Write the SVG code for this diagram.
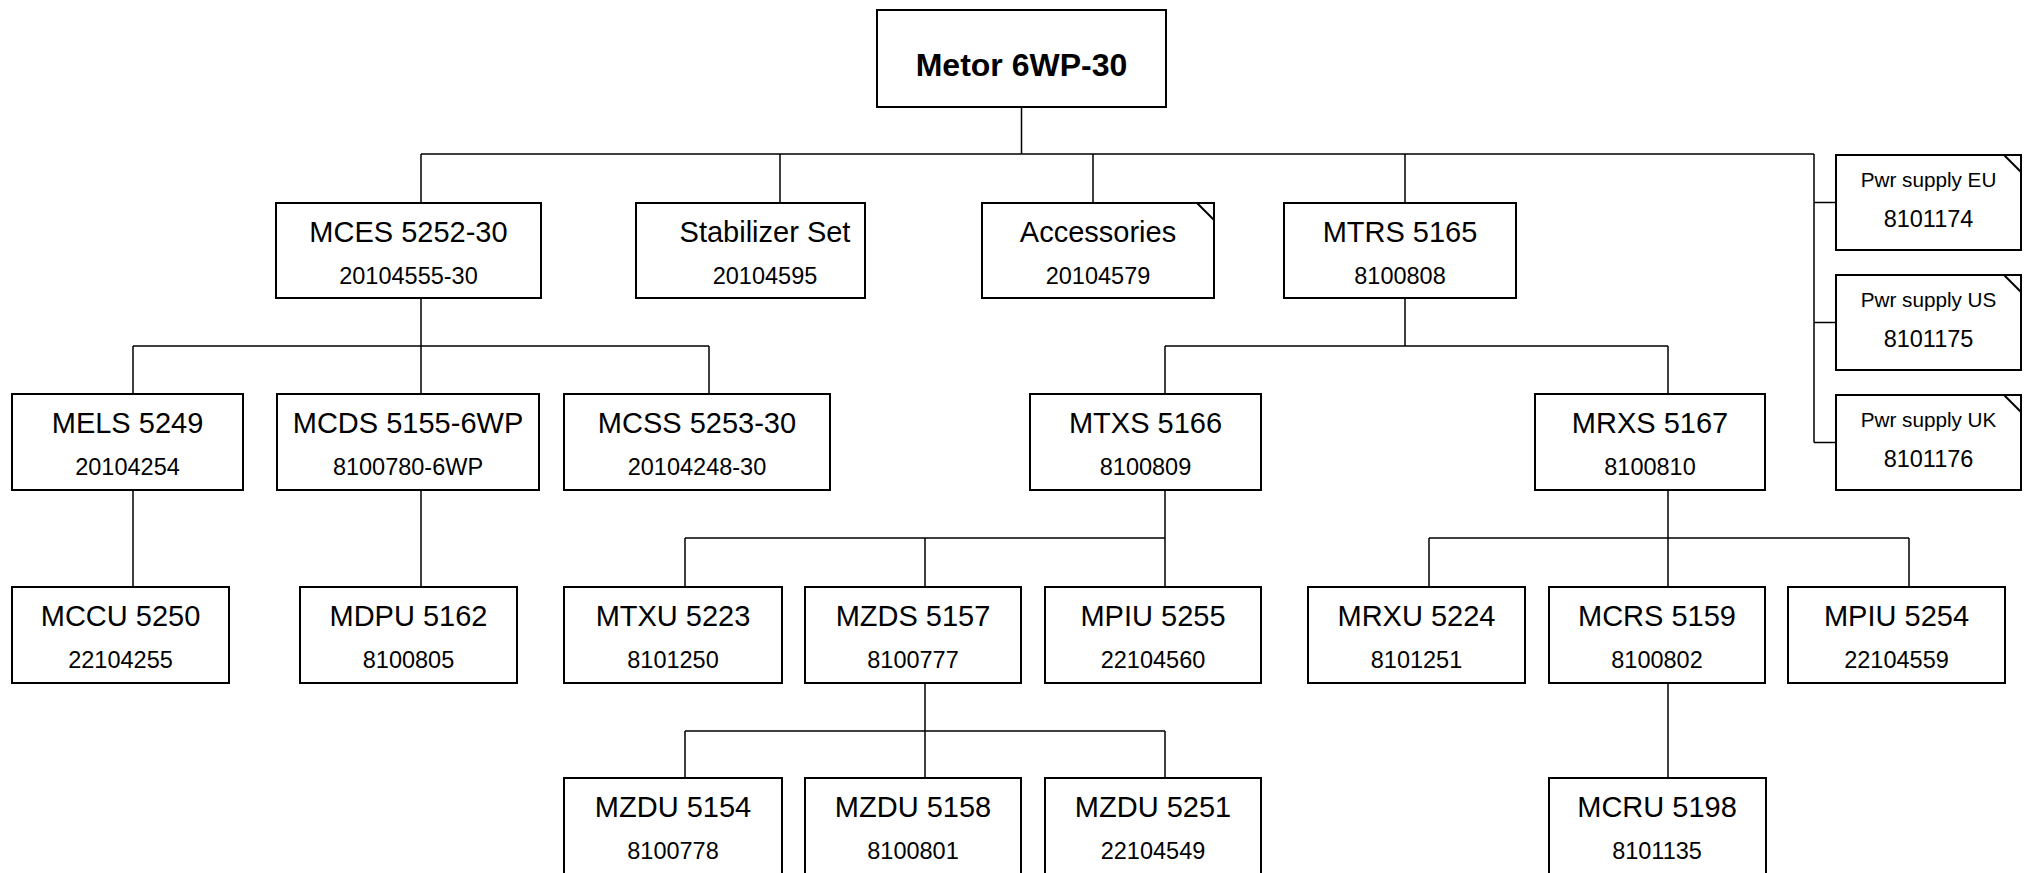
<svg xmlns="http://www.w3.org/2000/svg" width="2024" height="873" viewBox="0 0 2024 873">
<style>
.box{fill:#fff;stroke:#000;stroke-width:2}
.notch{fill:none;stroke:#000;stroke-width:2}
.conn{fill:none;stroke:#000;stroke-width:1.5}
text{font-family:"Liberation Sans",Arial,sans-serif;fill:#000;text-anchor:middle}
.t0{font-size:32px;font-weight:bold}
.t1{font-size:29px}
.t2{font-size:23.5px}
.p1{font-size:20.7px}
</style>
<rect width="2024" height="873" fill="#fff"/>
<g id="connectors">
<path class="conn" d="M1021.5 107V154M421 154H1814M421 154V203M780 154V203M1093 154V203M1405 154V203M1814 154V442.5M1814 202.5H1836M1814 322.5H1836M1814 442.5H1836"/>
<path class="conn" d="M421 298V346M133 346H709M133 346V394M421 346V394M709 346V394M133 490V587M421 490V587"/>
<path class="conn" d="M1405 298V346M1165 346H1668M1165 346V394M1668 346V394"/>
<path class="conn" d="M1165 490V538M685 538H1165M685 538V587M925 538V587M1165 538V587"/>
<path class="conn" d="M1668 490V538M1429 538H1909M1429 538V587M1668 538V587M1909 538V587"/>
<path class="conn" d="M925 683V731M685 731H1165M685 731V778M925 731V778M1165 731V778M1668 683V778"/>
</g>
<g id="root"><rect class="box" x="877" y="10" width="289" height="97"/><text class="t0" x="1021.5" y="76">Metor 6WP-30</text></g>
<g id="mces"><rect class="box" x="276" y="203" width="265" height="95"/><text class="t1" x="408.5" y="241.5">MCES 5252-30</text><text class="t2" x="408.5" y="283.5">20104555-30</text></g>
<g id="stabilizer"><rect class="box" x="636" y="203" width="229" height="95"/><text class="t1" x="765" y="241.5">Stabilizer Set</text><text class="t2" x="765" y="283.5">20104595</text></g>
<g id="accessories"><rect class="box" x="982" y="203" width="232" height="95"/><path class="notch" d="M1197 203L1214 220"/><text class="t1" x="1098" y="241.5">Accessories</text><text class="t2" x="1098" y="283.5">20104579</text></g>
<g id="mtrs"><rect class="box" x="1284" y="203" width="232" height="95"/><text class="t1" x="1400" y="241.5">MTRS 5165</text><text class="t2" x="1400" y="283.5">8100808</text></g>
<g id="ps-eu"><rect class="box" x="1836" y="155" width="185" height="95"/><path class="notch" d="M2004 155L2021 172"/><text class="p1" x="1928.5" y="187">Pwr supply EU</text><text class="t2" x="1928.5" y="227">8101174</text></g>
<g id="ps-us"><rect class="box" x="1836" y="275" width="185" height="95"/><path class="notch" d="M2004 275L2021 292"/><text class="p1" x="1928.5" y="307">Pwr supply US</text><text class="t2" x="1928.5" y="347">8101175</text></g>
<g id="ps-uk"><rect class="box" x="1836" y="395" width="185" height="95"/><path class="notch" d="M2004 395L2021 412"/><text class="p1" x="1928.5" y="427">Pwr supply UK</text><text class="t2" x="1928.5" y="467">8101176</text></g>
<g id="mels"><rect class="box" x="12" y="394" width="231" height="96"/><text class="t1" x="127.5" y="432.5">MELS 5249</text><text class="t2" x="127.5" y="474.5">20104254</text></g>
<g id="mcds"><rect class="box" x="277" y="394" width="262" height="96"/><text class="t1" x="408" y="432.5">MCDS 5155-6WP</text><text class="t2" x="408" y="474.5">8100780-6WP</text></g>
<g id="mcss"><rect class="box" x="564" y="394" width="266" height="96"/><text class="t1" x="697" y="432.5">MCSS 5253-30</text><text class="t2" x="697" y="474.5">20104248-30</text></g>
<g id="mtxs"><rect class="box" x="1030" y="394" width="231" height="96"/><text class="t1" x="1145.5" y="432.5">MTXS 5166</text><text class="t2" x="1145.5" y="474.5">8100809</text></g>
<g id="mrxs"><rect class="box" x="1535" y="394" width="230" height="96"/><text class="t1" x="1650" y="432.5">MRXS 5167</text><text class="t2" x="1650" y="474.5">8100810</text></g>
<g id="mccu"><rect class="box" x="12" y="587" width="217" height="96"/><text class="t1" x="120.5" y="625.5">MCCU 5250</text><text class="t2" x="120.5" y="667.5">22104255</text></g>
<g id="mdpu"><rect class="box" x="300" y="587" width="217" height="96"/><text class="t1" x="408.5" y="625.5">MDPU 5162</text><text class="t2" x="408.5" y="667.5">8100805</text></g>
<g id="mtxu"><rect class="box" x="564" y="587" width="218" height="96"/><text class="t1" x="673" y="625.5">MTXU 5223</text><text class="t2" x="673" y="667.5">8101250</text></g>
<g id="mzds"><rect class="box" x="805" y="587" width="216" height="96"/><text class="t1" x="913" y="625.5">MZDS 5157</text><text class="t2" x="913" y="667.5">8100777</text></g>
<g id="mpiu5255"><rect class="box" x="1045" y="587" width="216" height="96"/><text class="t1" x="1153" y="625.5">MPIU 5255</text><text class="t2" x="1153" y="667.5">22104560</text></g>
<g id="mrxu"><rect class="box" x="1308" y="587" width="217" height="96"/><text class="t1" x="1416.5" y="625.5">MRXU 5224</text><text class="t2" x="1416.5" y="667.5">8101251</text></g>
<g id="mcrs"><rect class="box" x="1549" y="587" width="216" height="96"/><text class="t1" x="1657" y="625.5">MCRS 5159</text><text class="t2" x="1657" y="667.5">8100802</text></g>
<g id="mpiu5254"><rect class="box" x="1788" y="587" width="217" height="96"/><text class="t1" x="1896.5" y="625.5">MPIU 5254</text><text class="t2" x="1896.5" y="667.5">22104559</text></g>
<g id="mzdu5154"><rect class="box" x="564" y="778" width="218" height="96"/><text class="t1" x="673" y="816.5">MZDU 5154</text><text class="t2" x="673" y="858.5">8100778</text></g>
<g id="mzdu5158"><rect class="box" x="805" y="778" width="216" height="96"/><text class="t1" x="913" y="816.5">MZDU 5158</text><text class="t2" x="913" y="858.5">8100801</text></g>
<g id="mzdu5251"><rect class="box" x="1045" y="778" width="216" height="96"/><text class="t1" x="1153" y="816.5">MZDU 5251</text><text class="t2" x="1153" y="858.5">22104549</text></g>
<g id="mcru"><rect class="box" x="1549" y="778" width="217" height="96"/><text class="t1" x="1657" y="816.5">MCRU 5198</text><text class="t2" x="1657" y="858.5">8101135</text></g>
</svg>
